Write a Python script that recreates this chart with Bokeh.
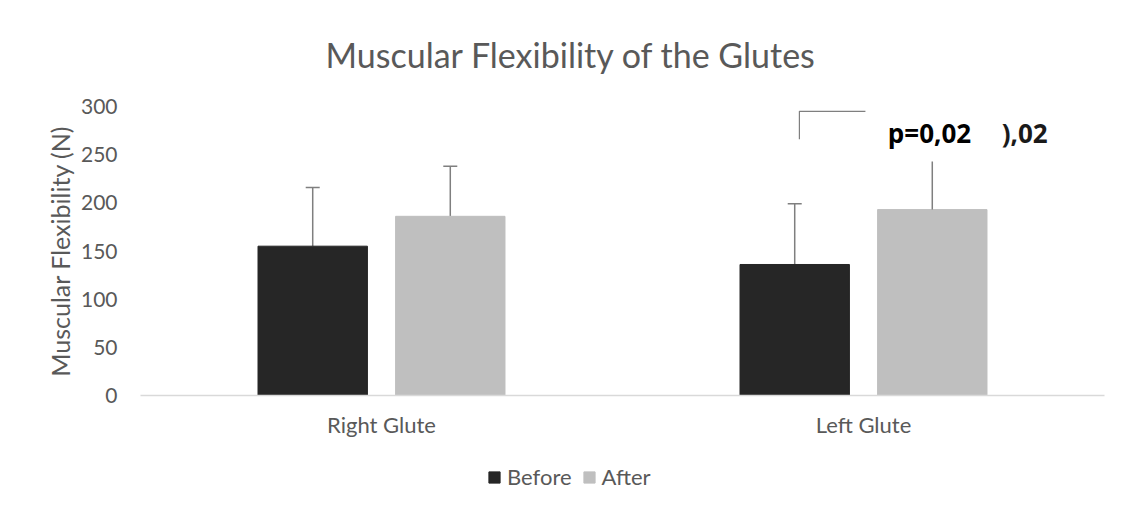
from bokeh.plotting import figure
from bokeh.layouts import column
from bokeh.models import ColumnDataSource, FactorRange, Legend, LegendItem, Whisker, Title
from bokeh.transform import dodge
from bokeh.core.properties import value
from bokeh.embed import file_html
from bokeh.resources import INLINE

categories = ["Right Glute", "Left Glute"]
before = [155, 136]
after = [186, 193]
before_err_top = [216, 199]
after_err_top = [238, 243]
y_ticks = [0, 50, 100, 150, 200, 250, 300]
p_label = "p=0,02"
p_label_clipped = "),02"
series = ["Before", "After"]

FONT = "Lato"
GREY = "#595959"
W = 1120

src = ColumnDataSource(dict(cat=categories, before=before, after=after,
                            bt=before_err_top, at=after_err_top))

p = figure(x_range=FactorRange(*categories), y_range=(0, 300),
           width=W, height=455, output_backend="svg", toolbar_location=None,
           min_border_left=140, min_border_right=W - 1104, min_border_top=105, min_border_bottom=60)
p.outline_line_color = None
p.xgrid.grid_line_color = None
p.ygrid.grid_line_color = None

off = 0.1427
w = 0.227
rb = p.vbar(x=dodge("cat", -off, range=p.x_range), top="before", width=w, bottom=0,
            source=src, fill_color="#262626", line_color="#262626")
ra = p.vbar(x=dodge("cat", off, range=p.x_range), top="after", width=w, bottom=0,
            source=src, fill_color="#bfbfbf", line_color="#bfbfbf")

wb = Whisker(base=dodge("cat", -off, range=p.x_range), lower="before", upper="bt",
             source=src, line_color="#7f7f7f", line_width=1.5)
wb.upper_head.size = 14
wb.upper_head.line_color = "#7f7f7f"
wb.upper_head.line_width = 1.5
wb.lower_head = None
p.add_layout(wb)

wa_src = ColumnDataSource(dict(cat=categories[:1], after=after[:1], at=after_err_top[:1]))
wa = Whisker(base=dodge("cat", off, range=p.x_range), lower="after", upper="at",
             source=wa_src, line_color="#7f7f7f", line_width=1.5)
wa.upper_head.size = 14
wa.upper_head.line_color = "#7f7f7f"
wa.upper_head.line_width = 1.5
wa.lower_head = None
p.add_layout(wa)
# left glute "after" error bar, cap hidden behind the label
p.segment(x0=[("Left Glute", off)], y0=[after[1]], x1=[("Left Glute", off)], y1=[after_err_top[1]],
          line_color="#7f7f7f", line_width=1.5)

# significance bracket
p.line(x=[("Left Glute", -0.133), ("Left Glute", -0.133), ("Left Glute", 0.004)],
       y=[266, 295, 295], line_color="#7f7f7f", line_width=1.2)
p.text(x=[("Left Glute", 0.137)], y=[273], text=[p_label], text_font=value("Open Sans"),
       text_font_style="bold", text_font_size="26px", text_color="black",
       text_align="center", text_baseline="middle")
p.text(x=[("Left Glute", 0.382)], y=[273], text=[p_label_clipped], text_font=value("Open Sans"),
       text_font_style="bold", text_font_size="26px", text_color="#1a1a1a",
       text_align="right", text_baseline="middle")

p.title = Title(text="Muscular Flexibility of the Glutes", align="left", offset=185,
                text_font=FONT, text_font_size="34px", text_font_style="normal",
                text_color=GREY, standoff=63)

p.xaxis.axis_line_color = "#d9d9d9"
p.xaxis.axis_line_width = 1.5
p.xaxis.major_tick_line_color = None
p.xaxis.minor_tick_line_color = None
p.xaxis.major_label_text_font = FONT
p.xaxis.major_label_text_font_size = "22px"
p.xaxis.major_label_text_color = GREY
p.xaxis.major_label_standoff = 9
p.x_range.range_padding = 0
p.x_range.group_padding = 0

p.yaxis.ticker = y_ticks
p.yaxis.axis_line_color = None
p.yaxis.major_tick_line_color = None
p.yaxis.minor_tick_line_color = None
p.yaxis.major_label_text_font = FONT
p.yaxis.major_label_text_font_size = "21px"
p.yaxis.major_label_text_color = GREY
p.yaxis.major_label_standoff = 17
p.yaxis.axis_label = "Muscular Flexibility (N)"
p.yaxis.axis_label_text_font = FONT
p.yaxis.axis_label_text_font_size = "25px"
p.yaxis.axis_label_text_font_style = "normal"
p.yaxis.axis_label_text_color = GREY
p.yaxis.axis_label_standoff = 3

# legend strip underneath the chart
p2 = figure(x_range=FactorRange(*categories), y_range=(1000, 1001),
            width=W, height=55, output_backend="svg", toolbar_location=None,
            min_border_left=0, min_border_right=0, min_border_top=0, min_border_bottom=0)
p2.axis.visible = False
p2.grid.grid_line_color = None
p2.outline_line_color = None
lb = p2.vbar(x="cat", top="before", width=w, source=src, fill_color="#262626", line_color="#262626")
la = p2.vbar(x="cat", top="after", width=w, source=src, fill_color="#bfbfbf", line_color="#bfbfbf")
legend = Legend(items=[LegendItem(label=series[0], renderers=[lb]),
                       LegendItem(label=series[1], renderers=[la])],
                orientation="horizontal", location=(347, 20),
                label_text_font=FONT, label_text_font_size="22px", label_text_color=GREY,
                glyph_width=14, glyph_height=14, spacing=10, label_standoff=6,
                border_line_color=None, background_fill_alpha=0, margin=0, padding=0)
p2.add_layout(legend)

open("out.html", "w").write(file_html(column(p, p2), INLINE))
